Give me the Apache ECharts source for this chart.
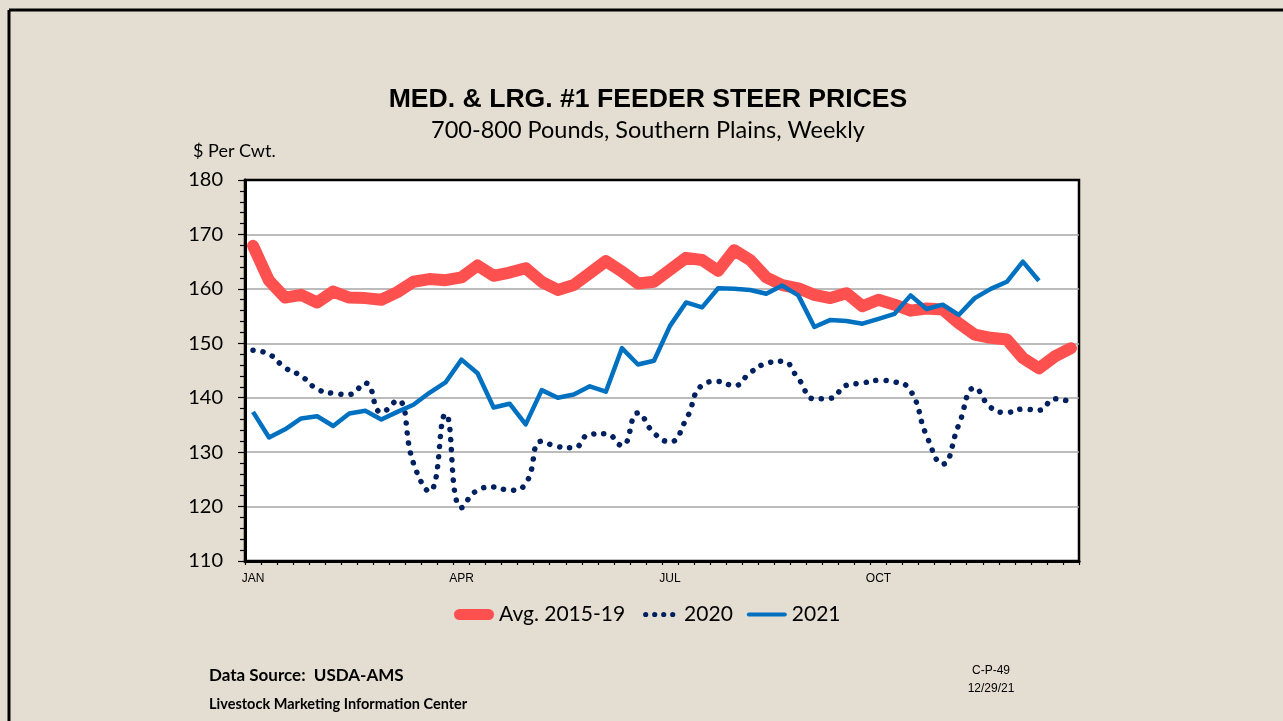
<!DOCTYPE html>
<html>
<head>
<meta charset="utf-8">
<script src="https://cdn.jsdelivr.net/npm/echarts@6/dist/echarts.min.js"></script>
<style>
  html, body { margin: 0; padding: 0; background: #e4ddd1; }
  #report { width: 1283px; height: 721px; }
</style>
</head>
<body>
<div id="report"></div>
<script>
// week ticks, month labels every 13 weeks
var months = ['JAN', 'APR', 'JUL', 'OCT'];
var weeks = [];
for (var w = 0; w < 52; w++) {
    weeks.push(w % 13 === 0 ? months[w / 13] : '');
}

var avg1519 = [167.9, 161.5, 158.4, 158.9, 157.5, 159.5, 158.4, 158.3, 158.0, 159.4,
    161.3, 161.8, 161.6, 162.1, 164.3, 162.4, 163.0, 163.8, 161.3, 159.8,
    160.7, 162.9, 165.1, 163.2, 161.0, 161.3, 163.5, 165.7, 165.3, 163.3,
    167.1, 165.3, 162.1, 160.7, 160.1, 158.9, 158.3, 159.2, 156.8, 158.0,
    157.1, 156.0, 156.4, 156.2, 153.7, 151.6, 151.0, 150.7, 147.3, 145.4,
    147.6, 149.1];

var y2020 = [148.7, 148.0, 145.5, 144.0, 141.6, 140.8, 140.6, 142.7, 137.3, 139.5,
    128.0, 122.8, 137.0, 119.8, 123.0, 123.6, 123.0, 124.2, 132.0, 131.0,
    130.8, 133.3, 133.4, 131.2, 137.2, 133.5, 131.9, 136.0, 142.3, 143.0,
    142.2, 144.6, 146.3, 146.7, 143.5, 139.8, 139.9, 142.3, 142.7, 143.2,
    142.9, 141.3, 133.0, 127.8, 135.0, 141.8, 138.2, 137.3, 137.9, 137.7,
    139.8, 139.2];

var y2021 = [137.4, 132.7, 134.2, 136.2, 136.6, 134.8, 137.1, 137.6, 136.0, 137.4,
    138.7, 140.9, 142.8, 147.0, 144.5, 138.2, 138.9, 135.1, 141.4, 140.0,
    140.6, 142.1, 141.1, 149.1, 146.1, 146.8, 153.2, 157.5, 156.6, 160.1,
    160.0, 159.8, 159.1, 160.6, 158.8, 153.0, 154.3, 154.1, 153.6, 154.5,
    155.4, 158.8, 156.3, 157.1, 155.2, 158.3, 160.0, 161.3, 165.0, 161.5,
    null, null];

var myChart = echarts.init(document.getElementById('report'));

var bodyFont = 'Lato, "Open Sans", sans-serif';

// legend icons (box 40 x 11)
var iconThick = 'path://M5.5,0h29a5.5,5.5 0 0 1 0,11h-29a5.5,5.5 0 0 1 0,-11z';
var iconDots = 'path://M0,0M40,11' +
    'M4,5.5a2.6,2.6 0 1 0 5.2,0a2.6,2.6 0 1 0 -5.2,0z' +
    'M13,5.5a2.6,2.6 0 1 0 5.2,0a2.6,2.6 0 1 0 -5.2,0z' +
    'M22,5.5a2.6,2.6 0 1 0 5.2,0a2.6,2.6 0 1 0 -5.2,0z' +
    'M31,5.5a2.6,2.6 0 1 0 5.2,0a2.6,2.6 0 1 0 -5.2,0z';
var iconThin = 'path://M0,0M40,11M2,3.5h36a2,2 0 0 1 0,4h-36a2,2 0 0 1 0,-4z';

var option = {
    backgroundColor: '#e4ddd1',
    animation: false,
    grid: {
        left: 245,
        right: 204,
        top: 180,
        bottom: 160,
        show: true,
        backgroundColor: '#fff',
        borderColor: '#000',
        borderWidth: 2.5
    },
    legend: {
        bottom: 91,
        left: 449,
        itemWidth: 40,
        itemHeight: 11,
        itemGap: 14,
        textStyle: { fontFamily: bodyFont, fontSize: 21, color: '#000' },
        data: [
            { name: 'Avg. 2015-19', icon: iconThick, itemStyle: { color: '#ff5050', borderWidth: 0 } },
            { name: '2020', icon: iconDots, itemStyle: { color: '#002060', borderWidth: 0 } },
            { name: '2021', icon: iconThin, itemStyle: { color: '#0070c0', borderWidth: 0 } }
        ]
    },
    xAxis: {
        type: 'category',
        data: weeks,
        boundaryGap: true,
        axisLine: { lineStyle: { color: '#000', width: 3 } },
        axisTick: { show: true, interval: 0, length: 4, lineStyle: { color: '#000', width: 1.2 } },
        axisLabel: {
            interval: 0,
            margin: 12,
            color: '#000',
            fontFamily: 'Liberation Sans, Arial, sans-serif',
            fontSize: 12
        },
        splitLine: { show: false }
    },
    yAxis: {
        type: 'value',
        min: 110,
        max: 180,
        interval: 10,
        axisLine: { show: true, lineStyle: { color: '#000', width: 3 } },
        axisTick: { show: true, length: 7, lineStyle: { color: '#000', width: 1.2 } },
        minorTick: { show: true, splitNumber: 5, length: 5, lineStyle: { color: '#000', width: 1.2 } },
        axisLabel: { color: '#000', fontFamily: bodyFont, fontSize: 20, margin: 22 },
        splitLine: { showMinLine: false, showMaxLine: false, lineStyle: { color: '#a6a6a6', width: 1.5 } }
    },
    series: [
        {
            name: 'Avg. 2015-19',
            type: 'line',
            data: avg1519,
            symbol: 'none',
            z: 2,
            itemStyle: { color: '#ff5050' },
            lineStyle: { color: '#ff5050', width: 12, cap: 'round', join: 'round' }
        },
        {
            name: '2020',
            type: 'line',
            data: y2020,
            symbol: 'none',
            smooth: 0.5,
            z: 3,
            itemStyle: { color: '#002060' },
            lineStyle: { color: '#002060', width: 5.5, type: [0.1, 10], cap: 'round' }
        },
        {
            name: '2021',
            type: 'line',
            data: y2021,
            symbol: 'none',
            z: 4,
            itemStyle: { color: '#0070c0' },
            lineStyle: { color: '#0070c0', width: 4.5, join: 'round' }
        }
    ],
    graphic: [
        { type: 'line', shape: { x1: 9, y1: 10, x2: 1283, y2: 10 }, style: { stroke: '#000', lineWidth: 3 } },
        { type: 'line', shape: { x1: 9, y1: 10, x2: 9, y2: 721 }, style: { stroke: '#000', lineWidth: 3 } },
        {
            type: 'text', x: 648, y: 100,
            style: {
                text: 'MED. & LRG. #1 FEEDER STEER PRICES', align: 'center', verticalAlign: 'middle',
                font: 'bold 26.6px "Liberation Sans Narrow", "Arial Narrow", sans-serif', fill: '#000'
            }
        },
        {
            type: 'text', x: 648, y: 130,
            style: {
                text: '700-800 Pounds, Southern Plains, Weekly', align: 'center', verticalAlign: 'middle',
                font: '23.5px ' + bodyFont, fill: '#000'
            }
        },
        {
            type: 'text', x: 193, y: 151,
            style: { text: '$ Per Cwt.', align: 'left', verticalAlign: 'middle', font: '18px ' + bodyFont, fill: '#000' }
        },
        {
            type: 'text', x: 209, y: 676,
            style: { text: 'Data Source:  USDA-AMS', align: 'left', verticalAlign: 'middle', font: 'bold 17px ' + bodyFont, fill: '#000' }
        },
        {
            type: 'text', x: 209, y: 704,
            style: { text: 'Livestock Marketing Information Center', align: 'left', verticalAlign: 'middle', font: 'bold 14.5px ' + bodyFont, fill: '#000' }
        },
        {
            type: 'text', x: 991, y: 671,
            style: { text: 'C-P-49', align: 'center', verticalAlign: 'middle', font: '12px "Liberation Sans Narrow", Arial, sans-serif', fill: '#000' }
        },
        {
            type: 'text', x: 991, y: 689,
            style: { text: '12/29/21', align: 'center', verticalAlign: 'middle', font: '12px "Liberation Sans Narrow", Arial, sans-serif', fill: '#000' }
        }
    ]
};

myChart.setOption(option);
</script>
</body>
</html>
